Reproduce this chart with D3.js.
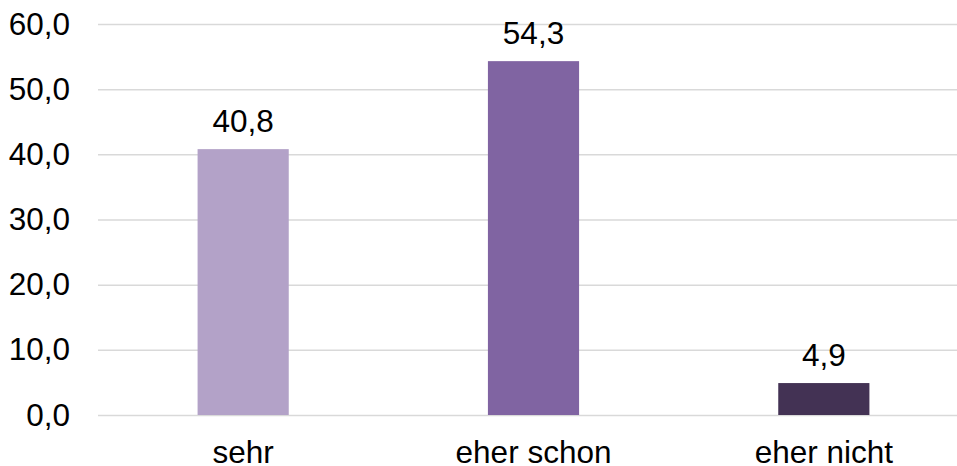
<!DOCTYPE html>
<html><head><meta charset="utf-8">
<script src="https://cdn.jsdelivr.net/npm/d3@7"></script>
<style>body{margin:0;background:#fff}svg{display:block}text{font-family:Arial,"Liberation Sans",sans-serif;fill:#000}</style>
</head><body>
<svg id="c" width="957" height="466"></svg>
<script>
const categories = ["sehr", "eher schon", "eher nicht"];
const values = [40.8, 54.3, 4.9];
const colors = ["#b3a2c8", "#8064a2", "#433254"];
const yTicks = [0, 10, 20, 30, 40, 50, 60];

const svg = d3.select("#c");
const fmt = v => d3.format(".1f")(v).replace(".", ",");
const FS = 31.5;

const x = d3.scaleBand().domain(categories).range([98, 969]).paddingInner(0.686).paddingOuter(0.343);
const y = d3.scaleLinear().domain([0, 60]).range([415, 24]);

const yAxis = d3.axisLeft(y).tickValues(yTicks).tickSize(-(957 - 98)).tickFormat(fmt).tickPadding(28);
const gy = svg.append("g").attr("transform", "translate(98,0)").call(yAxis);
gy.select(".domain").remove();
gy.selectAll(".tick line").attr("stroke", "#d9d9d9").attr("stroke-width", 1.5);
gy.selectAll(".tick text").attr("font-size", FS).attr("fill", "#000").attr("font-family", "Arial, 'Liberation Sans', sans-serif");

svg.append("g").selectAll("rect").data(values).join("rect")
  .attr("x", (d, i) => x(categories[i]))
  .attr("width", x.bandwidth())
  .attr("y", d => y(d))
  .attr("height", d => y(0) - y(d))
  .attr("fill", (d, i) => colors[i]);

svg.append("g").selectAll("text").data(values).join("text")
  .attr("x", (d, i) => x(categories[i]) + x.bandwidth() / 2)
  .attr("y", d => y(d) - 17)
  .attr("text-anchor", "middle")
  .attr("font-size", FS)
  .text(d => fmt(d));

const xAxis = d3.axisBottom(x).tickSize(0).tickPadding(0);
const gx = svg.append("g").attr("transform", "translate(0,415)").call(xAxis);
gx.select(".domain").remove();
gx.selectAll(".tick text").attr("font-size", FS).attr("fill", "#000")
  .attr("font-family", "Arial, 'Liberation Sans', sans-serif")
  .attr("dy", null).attr("y", 48);
</script>
</body></html>
